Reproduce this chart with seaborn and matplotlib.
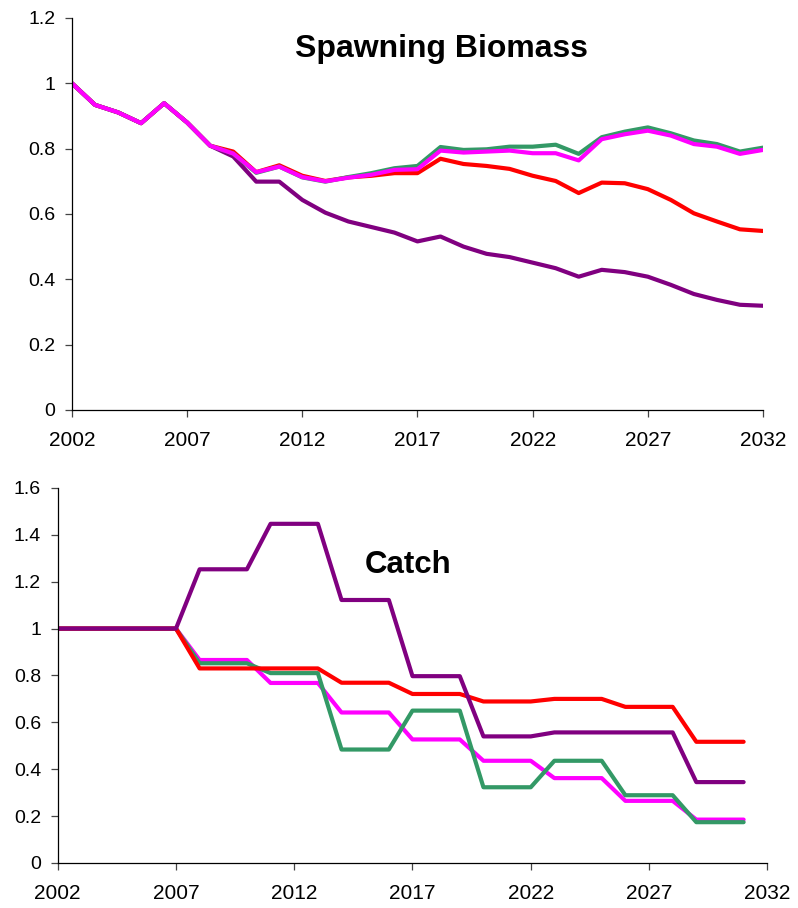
import matplotlib
matplotlib.use("Agg")
import matplotlib.pyplot as plt
import seaborn as sns

sns.set_style("ticks")
plt.rcParams['font.family'] = ['Liberation Sans', 'DejaVu Sans']
plt.rcParams['text.color'] = 'black'
plt.rcParams['xtick.labelcolor'] = 'black'
plt.rcParams['ytick.labelcolor'] = 'black'

# spawning biomass (relative), 2002-2032
sb_years = list(range(2002, 2033))
sb_purple = [1.0, 0.934, 0.911, 0.878, 0.939, 0.880, 0.809, 0.776, 0.699, 0.699,
             0.643, 0.604, 0.577, 0.560, 0.543, 0.516, 0.531, 0.500, 0.478, 0.468,
             0.451, 0.434, 0.408, 0.429, 0.422, 0.408, 0.383, 0.355, 0.337, 0.322, 0.319]
sb_red = [1.0, 0.934, 0.911, 0.878, 0.939, 0.880, 0.809, 0.791, 0.728, 0.749,
          0.717, 0.701, 0.712, 0.717, 0.725, 0.725, 0.769, 0.753, 0.747, 0.738,
          0.717, 0.701, 0.664, 0.696, 0.694, 0.676, 0.643, 0.602, 0.577, 0.553, 0.548]
sb_magenta = [1.0, 0.934, 0.911, 0.878, 0.939, 0.880, 0.809, 0.785, 0.728, 0.745,
              0.713, 0.700, 0.711, 0.720, 0.735, 0.737, 0.794, 0.788, 0.791, 0.794,
              0.786, 0.786, 0.764, 0.829, 0.844, 0.855, 0.840, 0.814, 0.806, 0.784, 0.796]
sb_green = [1.0, 0.934, 0.911, 0.878, 0.939, 0.880, 0.809, 0.785, 0.726, 0.745,
            0.712, 0.699, 0.713, 0.725, 0.740, 0.747, 0.805, 0.796, 0.798, 0.806,
            0.806, 0.812, 0.784, 0.835, 0.852, 0.865, 0.847, 0.825, 0.814, 0.791, 0.803]

# catch (relative), 2002-2031
c_years = list(range(2002, 2032))
c_purple = [1.0, 1.0, 1.0, 1.0, 1.0, 1.0, 1.253, 1.253, 1.253, 1.447,
            1.447, 1.447, 1.122, 1.122, 1.122, 0.797, 0.797, 0.797, 0.540, 0.540,
            0.540, 0.557, 0.557, 0.557, 0.557, 0.557, 0.557, 0.345, 0.345, 0.345]
c_red = [1.0, 1.0, 1.0, 1.0, 1.0, 1.0, 0.830, 0.830, 0.830, 0.830,
         0.830, 0.830, 0.769, 0.769, 0.769, 0.721, 0.721, 0.721, 0.689, 0.689,
         0.689, 0.700, 0.700, 0.700, 0.666, 0.666, 0.666, 0.517, 0.517, 0.517]
c_magenta = [1.0, 1.0, 1.0, 1.0, 1.0, 1.0, 0.866, 0.866, 0.866, 0.768,
             0.768, 0.768, 0.642, 0.642, 0.642, 0.527, 0.527, 0.527, 0.436, 0.436,
             0.436, 0.362, 0.362, 0.362, 0.265, 0.265, 0.265, 0.185, 0.185, 0.185]
c_green = [1.0, 1.0, 1.0, 1.0, 1.0, 1.0, 0.852, 0.852, 0.852, 0.810,
           0.810, 0.810, 0.484, 0.484, 0.484, 0.650, 0.650, 0.650, 0.323, 0.323,
           0.323, 0.436, 0.436, 0.436, 0.289, 0.289, 0.289, 0.174, 0.174, 0.174]

PURPLE = "#800080"
RED = "#FF0000"
MAGENTA = "#FF00FF"
GREEN = "#339966"

xticks = [2002, 2007, 2012, 2017, 2022, 2027, 2032]


def style_axis(ax, ymax):
    ax.set_xlim(2002, 2032)
    ax.set_ylim(0, ymax)
    ax.set_xticks(xticks)
    yt = [round(0.2 * i, 1) for i in range(int(round(ymax / 0.2)) + 1)]
    ax.set_yticks(yt)
    ax.set_yticklabels([f"{v:g}" for v in yt])
    sns.despine(ax=ax)
    for s in ("left", "bottom"):
        ax.spines[s].set_linewidth(0.9)
        ax.spines[s].set_color("black")
    ax.tick_params(axis="both", length=5, width=0.9, color="#444444",
                   direction="out")
    ax.tick_params(axis="y", pad=7, labelsize=14)
    ax.tick_params(axis="x", pad=10, labelsize=15)
    ax.set_xlabel("")
    ax.set_ylabel("")


fig = plt.figure(figsize=(7.98, 9.08), dpi=100)
ax1 = fig.add_axes([0.0902, 0.5485, 0.8659, 0.4317])
ax2 = fig.add_axes([0.0723, 0.0496, 0.8892, 0.4130])

lw = 3
sns.lineplot(x=sb_years, y=sb_purple, color=PURPLE, lw=lw, ax=ax1)
sns.lineplot(x=sb_years, y=sb_red, color=RED, lw=lw, ax=ax1)
sns.lineplot(x=sb_years, y=sb_green, color=GREEN, lw=lw, ax=ax1)
sns.lineplot(x=sb_years, y=sb_magenta, color=MAGENTA, lw=lw, ax=ax1)
style_axis(ax1, 1.2)
ax1.text(2018.05, 1.105, "Spawning Biomass", ha="center", va="center",
         fontsize=23, fontweight="bold")

sns.lineplot(x=c_years, y=c_magenta, color=MAGENTA, lw=lw, ax=ax2)
sns.lineplot(x=c_years, y=c_green, color=GREEN, lw=lw, ax=ax2)
sns.lineplot(x=c_years, y=c_red, color=RED, lw=lw, ax=ax2)
sns.lineplot(x=c_years, y=c_purple, color=PURPLE, lw=lw, ax=ax2)
style_axis(ax2, 1.6)
ax2.text(2016.8, 1.27, "Catch", ha="center", va="center",
         fontsize=22.5, fontweight="bold")

fig.savefig("out.png", dpi=100)
